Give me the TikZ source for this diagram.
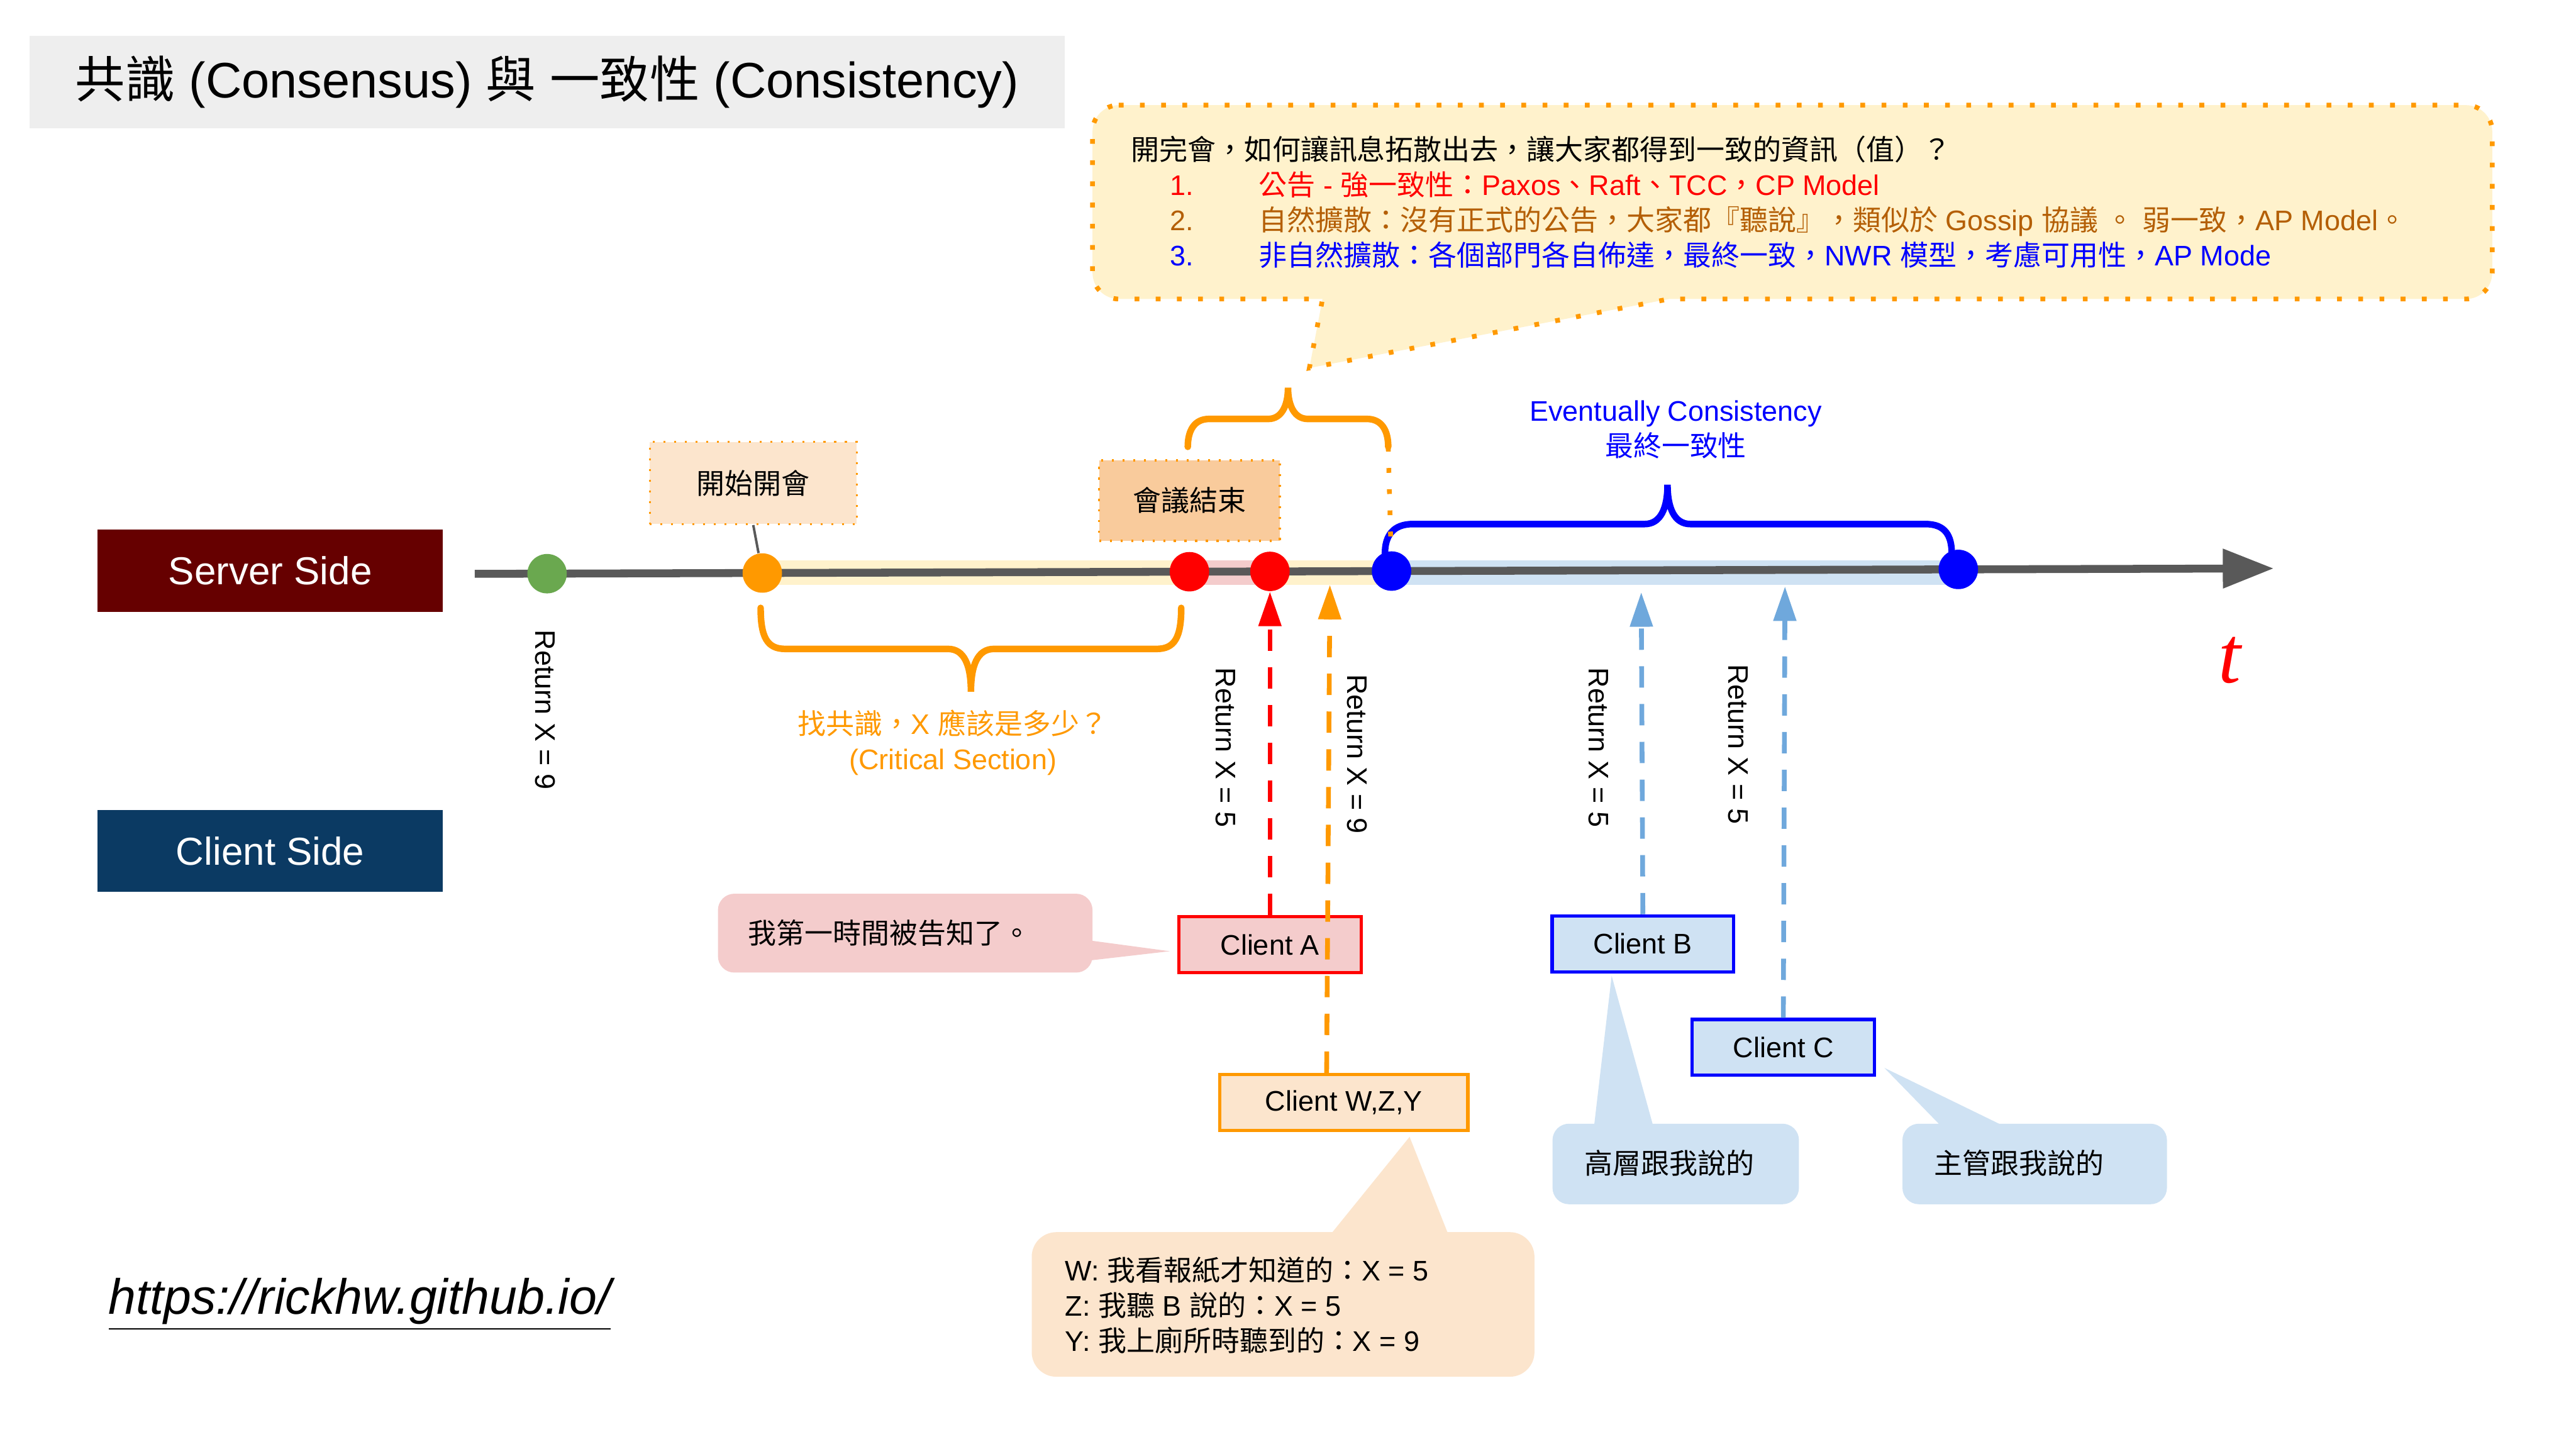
\documentclass[tikz,border=0pt]{standalone}
\usepackage{fontspec}
\setmainfont{Liberation Sans}
\newfontfamily\cjk{Noto Sans CJK TC}
\newfontfamily\seriff{Liberation Serif}
\usetikzlibrary{arrows.meta}

% switch to the CJK font for Chinese characters
\XeTeXinterchartokenstate=1
\newXeTeXintercharclass\cjkclass
\newcount\cjkcode
\newcommand\cjkrange[2]{\cjkcode=#1\relax
  \loop\XeTeXcharclass\cjkcode=\cjkclass
  \ifnum\cjkcode<#2\advance\cjkcode by 1\repeat}
\cjkrange{"3000}{"303F}
\cjkrange{"4E00}{"9FFF}
\cjkrange{"FF00}{"FFEF}
\XeTeXinterchartoks 0 \cjkclass = {\cjk}
\XeTeXinterchartoks 4095 \cjkclass = {\cjk}
\XeTeXinterchartoks \cjkclass 0 = {\normalfont}
\XeTeXinterchartoks \cjkclass 4095 = {\normalfont}

\newcommand\bodyfont{\fontsize{9.8pt}{12.2pt}\selectfont}
\newcommand\titlefont{\fontsize{17.3pt}{20pt}\selectfont}

\definecolor{serverred}{HTML}{660000}
\definecolor{clientnavy}{HTML}{0B3A63}
\definecolor{axisgray}{HTML}{595959}
\definecolor{paleyellow}{HTML}{FFF2CC}
\definecolor{meetorange}{HTML}{FF9900}
\definecolor{paleorange}{HTML}{FCE5CD}
\definecolor{peach}{HTML}{F9CB9C}
\definecolor{palepink}{HTML}{F4CCCC}
\definecolor{paleblue}{HTML}{CFE2F3}
\definecolor{midblue}{HTML}{6FA8DC}
\definecolor{dotgreen}{HTML}{6AA84F}
\definecolor{gossipbrown}{HTML}{B45F06}
\definecolor{titlegray}{HTML}{EEEEEE}
\definecolor{pureblue}{HTML}{0000FF}
\definecolor{purered}{HTML}{FF0000}

\tikzset{
    sidebox/.style={rectangle, text=white, minimum width=4.2cm, minimum height=1cm, font=\fontsize{13.5pt}{16pt}\selectfont},
    tdot/.style={circle, inner sep=0pt, minimum size=0.48cm},
    notebox/.style={rectangle, draw=meetorange, line width=0.024cm, dash pattern=on 0.024cm off 0.106cm, minimum height=1cm, font=\bodyfont},
    clientbox/.style={rectangle, line width=0.04cm, minimum width=2.22cm, minimum height=0.68cm, font=\bodyfont},
    retlabel/.style={rotate=-90, font=\bodyfont},
    retarrow/.style={line width=0.058cm, dash pattern=on 0.26cm off 0.2cm, -{Triangle[length=0.42cm, width=0.27cm]}},
    bracket/.style={line width=0.08cm, line cap=round},
    orangedots/.style={draw=meetorange, line width=0.058cm, dash pattern=on 0.058cm off 0.2cm},
    saying/.style={font=\bodyfont, anchor=west, inner sep=0pt, align=left},
}

\begin{document}
\begin{tikzpicture}[x=0.02cm, y=-0.02cm]
    \fill[white] (0,0) rectangle (1568,882);

    % Title
    \node[fill=titlegray, minimum width=12.6cm, minimum height=1.12cm, font=\titlefont] (title) at (333,50) {共識 (Consensus) 與 一致性 (Consistency)};

    % Sides
    \node[sidebox, fill=serverred] (server) at (164.5,347.5) {Server Side};
    \node[sidebox, fill=clientnavy] (client) at (164.5,518) {Client Side};

    % Question callout
    \draw[orangedots, fill=paleyellow] (681,64) -- (1501,64) arc[start angle=90, end angle=0, radius=0.32cm]
        -- (1517,166) arc[start angle=0, end angle=-90, radius=0.32cm]
        -- (1016,182) -- (797,224) -- (805,182)
        -- (681,182) arc[start angle=270, end angle=180, radius=0.32cm]
        -- (665,80) arc[start angle=180, end angle=90, radius=0.32cm] -- cycle;
    \node[saying] (question) at (688,123) {開完會，如何讓訊息拓散出去，讓大家都得到一致的資訊（值）？\\
        \color{purered}\hspace*{0.48cm}\makebox[1.08cm][l]{1.}公告 - 強一致性：Paxos、Raft、TCC，CP Model\\
        \color{gossipbrown}\hspace*{0.48cm}\makebox[1.08cm][l]{2.}自然擴散：沒有正式的公告，大家都『聽說』，類似於 Gossip 協議 。 弱一致，AP Model。\\
        \color{pureblue}\hspace*{0.48cm}\makebox[1.08cm][l]{3.}非自然擴散：各個部門各自佈達，最終一致，NWR 模型，考慮可用性，AP Mode};

    % Bands on the time line
    \fill[paleyellow] (464,341) rectangle (847,356);
    \fill[palepink] (724,341) rectangle (773,356);
    \fill[paleblue] (847,341) rectangle (1192,356);

    % Time line
    \coordinate (t0) at (289,349.3);
    \coordinate (t1) at (1384,346);
    \draw[line width=0.096cm, axisgray, -{Triangle[length=0.62cm, width=0.46cm]}] (t0) -- (t1);
    \node[font=\seriff\itshape\fontsize{28pt}{30pt}\selectfont, text=purered] (tlabel) at (1357,402) {t};

    \node[tdot, fill=dotgreen] (g) at (333,349.2) {};
    \node[tdot, fill=meetorange] (o1) at (464,348.8) {};
    \node[tdot, fill=purered] (r1) at (724,348) {};
    \node[tdot, fill=purered] (r2) at (773,347.8) {};
    \node[tdot, fill=pureblue] (b1) at (847,347.6) {};
    \node[tdot, fill=pureblue] (b2) at (1192,346.6) {};

    % Braces
    \draw[bracket, meetorange] (463,370) .. controls (463,388) and (467,395) .. (478,395) -- (577,395)
        .. controls (587,395) and (591,405) .. (591,421) .. controls (591,405) and (595,395) .. (605,395)
        -- (704,395) .. controls (715,395) and (719,388) .. (719,370);
    \draw[bracket, pureblue] (843,337) .. controls (843,326) and (848,319) .. (860,319) -- (1001,319)
        .. controls (1011,319) and (1015,309) .. (1015,295) .. controls (1015,309) and (1019,319) .. (1029,319)
        -- (1172,319) .. controls (1184,319) and (1188,326) .. (1188,337);
    \coordinate (ub) at (845,272);
    \draw[bracket, meetorange] (723,272) .. controls (723,262) and (727,255) .. (736,255) -- (772,255)
        .. controls (780,255) and (784,247) .. (784,236) .. controls (784,247) and (788,255) .. (796,255)
        -- (832,255) .. controls (841,255) and (845,262) .. (ub);
    \draw[orangedots] (ub) -- (b1);

    \node[font=\bodyfont, align=center, text=pureblue] (eventual) at (1020,261.5) {Eventually Consistency\\最終一致性};
    \node[font=\bodyfont, align=center, text=meetorange] (critical) at (580,452) {找共識，X 應該是多少？\\(Critical Section)};

    % Meeting notes
    \node[notebox, fill=paleorange, minimum width=2.52cm] (start) at (458.5,294) {開始開會};
    \draw[axisgray, line width=0.03cm] (start.south) -- (o1);
    \node[notebox, fill=peach, minimum width=2.2cm, minimum height=0.98cm] (finish) at (724,304.7) {會議結束};

    % Returned values
    \node[retlabel] (ret1) at (332,432) {Return X = 9};
    \node[retlabel] (ret2) at (746,455) {Return X = 5};
    \node[retlabel] (ret3) at (826,459) {Return X = 9};
    \node[retlabel] (ret4) at (973,455) {Return X = 5};
    \node[retlabel] (ret5) at (1058,453) {Return X = 5};

    % Clients
    \node[clientbox, draw=purered, fill=palepink] (ca) at (773,575) {Client A};
    \node[clientbox, draw=meetorange, fill=paleorange, minimum width=3.02cm] (cw) at (818,671) {Client W,Z,Y};
    \node[clientbox, draw=pureblue, fill=paleblue, minimum width=2.21cm] (cb) at (1000,574.5) {Client B};
    \node[clientbox, draw=pureblue, fill=paleblue] (cc) at (1085.5,637.5) {Client C};

    \coordinate (wtip) at (809.5,356);
    \coordinate (btip) at (999,360.5);
    \coordinate (ctip) at (1086.5,357);
    \draw[retarrow, purered] (ca.north) -- (r2.south);
    \draw[retarrow, meetorange] ([xshift=-0.21cm]cw.north) -- (wtip);
    \draw[retarrow, midblue] (cb.north) -- (btip);
    \draw[retarrow, midblue] (cc.north) -- (ctip);

    % Sayings
    \fill[palepink, rounded corners=0.2cm] (437,544) rectangle (665,592);
    \fill[palepink] (660,572) -- (712,579) -- (660,585) -- cycle;
    \node[saying] (told) at (455,568) {我第一時間被告知了。};

    \fill[paleorange, rounded corners=0.3cm] (628,750) rectangle (934,838);
    \fill[paleorange] (807,755) -- (858,692) -- (883,755) -- cycle;
    \node[saying] (heard) at (648,794.5) {W: 我看報紙才知道的：X = 5\\Z: 我聽 B 說的：X = 5\\Y: 我上廁所時聽到的：X = 9};

    \fill[paleblue, rounded corners=0.2cm] (945,684) rectangle (1095,733);
    \fill[paleblue] (970,688) -- (981,594) -- (1007,688) -- cycle;
    \node[saying] (boss) at (964,708) {高層跟我說的};

    \fill[paleblue, rounded corners=0.2cm] (1158,684) rectangle (1319,733);
    \fill[paleblue] (1184,688) -- (1147,650) -- (1225,688) -- cycle;
    \node[saying] (manager) at (1177,708) {主管跟我說的};

    % Site
    \node[font=\fontsize{17.2pt}{20pt}\selectfont\itshape] (site) at (219,794) {\underline{https://rickhw.github.io/}};
\end{tikzpicture}
\end{document}
